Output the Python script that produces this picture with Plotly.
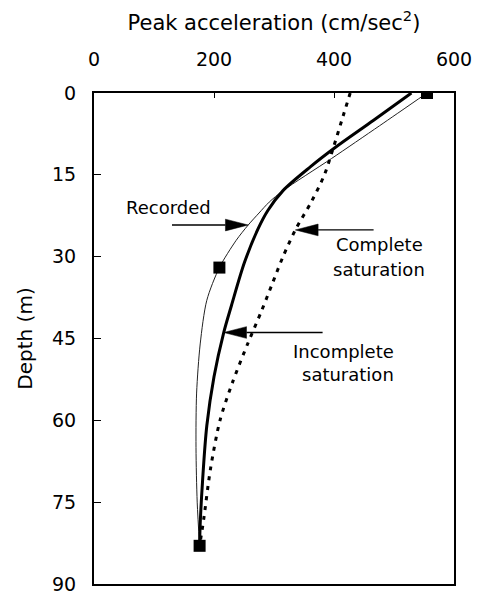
import numpy as np
import plotly.graph_objects as go

# Peak acceleration profiles with depth
rec_depth = [0, 6, 12, 17.9, 20, 22, 24.2, 27, 32, 38, 46, 55, 65, 75, 83]
rec_acc = [555, 476, 396, 315, 292, 275, 257, 237, 209, 188, 177, 171, 170, 172, 176]

inc_depth = [0, 5, 10, 13.5, 17.9, 21.5, 25, 31, 39, 44, 52, 61, 71, 79, 83]
inc_acc = [529, 466, 402, 361, 315, 290, 273, 251, 229, 216, 200, 188, 181, 177, 176]

cmp_depth = [0, 5, 10, 15, 20, 25, 30, 35, 40, 46, 53, 60, 69, 78, 83]
cmp_acc = [427, 413, 399, 384, 362, 336, 315, 297, 279, 256, 231, 210, 194, 183, 176]

# Recorded stations
obs_depth = [0, 32, 83]
obs_acc = [555, 209, 176]

x_ticks = [0, 200, 400, 600]
y_ticks = [0, 15, 30, 45, 60, 75, 90]

W, H = 482, 605
M = dict(l=94, r=24, t=93, b=10)
plot_w = W - M["l"] - M["r"]
plot_h = H - M["t"] - M["b"]
ux = plot_w / 600.0   # px per cm/sec^2
uy = plot_h / 90.0    # px per m

fig = go.Figure()
fig.add_trace(go.Scatter(x=rec_acc, y=rec_depth, mode="lines",
                         line=dict(color="#222", width=1, shape="spline", smoothing=0.8)))
fig.add_trace(go.Scatter(x=inc_acc, y=inc_depth, mode="lines",
                         line=dict(color="black", width=3, shape="spline", smoothing=0.9)))
fig.add_trace(go.Scatter(x=cmp_acc, y=cmp_depth, mode="lines",
                         line=dict(color="black", width=3, dash="4px,6px", shape="spline", smoothing=0.8)))
fig.add_trace(go.Scatter(x=obs_acc, y=obs_depth, mode="markers",
                         marker=dict(symbol="square", size=12, color="black")))


def arrow(depth_arr, acc_arr, depth, tail_x):
    tip_x = float(np.interp(depth, depth_arr, acc_arr))
    d = 1 if tail_x > tip_x else -1
    hl = 23 / ux
    hh = 6 / uy
    base = tip_x + d * hl
    fig.add_shape(type="line", x0=tail_x, x1=base, y0=depth, y1=depth,
                  line=dict(color="black", width=1.3))
    fig.add_shape(type="path",
                  path=f"M {tip_x},{depth} L {base},{depth - hh} L {base},{depth + hh} Z",
                  fillcolor="black", line=dict(color="black", width=0.5))


arrow(rec_depth, rec_acc, 24.2, 130)
arrow(cmp_depth, cmp_acc, 25.1, 466)
arrow(inc_depth, inc_acc, 43.9, 381)

font = dict(family="DejaVu Sans", size=18, color="black")
fig.add_annotation(x=124.7, y=20.9, text="Recorded", showarrow=False, font=font)
fig.add_annotation(x=475, y=27.8, text="Complete", showarrow=False, font=font)
fig.add_annotation(x=475, y=32.3, text="saturation", showarrow=False, font=font)
fig.add_annotation(x=415, y=47.4, text="Incomplete", showarrow=False, font=font)
fig.add_annotation(x=424, y=51.6, text="saturation", showarrow=False, font=font)

fig.update_layout(
    width=W, height=H, margin=M,
    paper_bgcolor="white", plot_bgcolor="white",
    showlegend=False,
    font=dict(family="DejaVu Sans", size=18, color="black"),
)
fig.update_xaxes(
    side="top", range=[0, 600], tickvals=x_ticks, ticks="inside", ticklen=5,
    tickwidth=1, tickcolor="black", showline=True, linecolor="black", linewidth=2,
    mirror=True, showgrid=False, zeroline=False, ticklabelstandoff=17,
    tickfont=dict(size=19),
    title=dict(text="Peak acceleration (cm/sec<sup>2</sup>)", font=dict(size=21), standoff=12),
)
fig.update_yaxes(
    range=[90, 0], tickvals=y_ticks, ticks="inside", ticklen=7,
    tickwidth=1, tickcolor="black", showline=True, linecolor="black", linewidth=2,
    mirror=True, showgrid=False, zeroline=False, ticklabelstandoff=12,
    tickfont=dict(size=19),
    title=dict(text="Depth (m)", font=dict(size=20), standoff=14),
)

fig.write_html("out.html")
